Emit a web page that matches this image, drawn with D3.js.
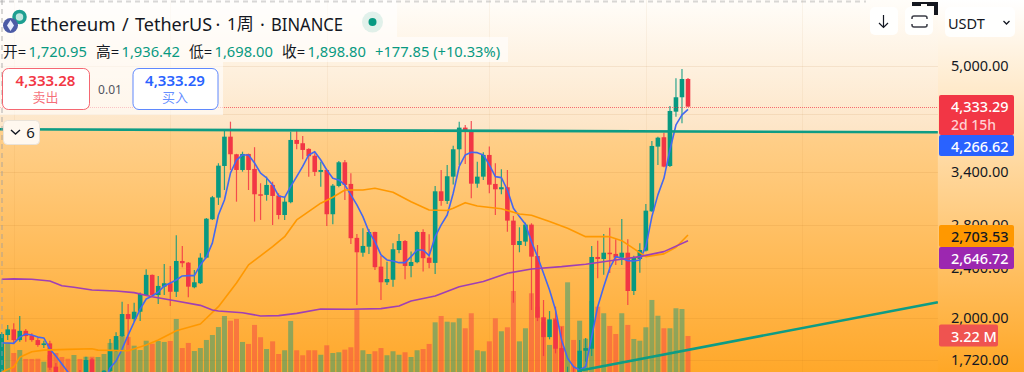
<!DOCTYPE html>
<html>
<head>
<meta charset="utf-8">
<title>Ethereum / TetherUS</title>
<script src="https://cdn.jsdelivr.net/npm/d3@7"></script>
<style>
  html, body { margin: 0; padding: 0; background: #fff; overflow: hidden; }
  svg { display: block; }
  text { font-family: "Noto Sans", "Noto Sans CJK SC", sans-serif; }
</style>
</head>
<body>
<svg id="chart" width="1024" height="372"></svg>
<script>
// weekly candles, left to right
const opens = [1597,1880,1919,1846,1909,1878,1846,1813,1824,1676,1568,1520,1490,1550,1512,1721,1512,1512,1650,1780,1873,2029,1992,2046,2174,2339,2174,2241,2269,2200,2460,2445,2236,2269,2490,2862,3096,3473,3863,3624,3423,3628,3436,3134,3127,3242,3119,2907,3045,3817,3772,3695,3605,3399,3423,2915,3230,3520,3254,2675,2535,2591,2733,2410,2277,2298,2560,2645,2416,2449,2733,2490,2443,3168,3059,3341,3690,3992,3944,3257,3341,3615,3254,3191,3215,2848,2607,2639,2807,2505,2005,1866,1990,1793,1530,1610,1626,1776,1789,2496,2478,2535,2524,2490,2535,2206,2478,2554,2946,3726,3855,3473,4230,4457,4763]
const highs = [1900,1950,1962,2015,1921,1893,1860,1841,1841,1699,1590,1560,1580,1656,1737,1729,1626,1656,1853,1900,2122,2105,2114,2193,2387,2342,2330,2434,2416,2701,2598,2450,2381,2530,2876,3115,3508,3958,4079,3630,3658,3632,3718,3262,3341,3281,3146,3100,3934,3958,3873,3704,3637,3528,3432,3254,3536,3549,3383,2714,2770,2763,2736,2505,2454,2624,2714,2655,2545,2746,2760,2710,3230,3423,3486,3739,4079,4031,4089,3528,3650,3726,3507,3432,3423,2897,2780,2827,2821,2607,2135,2051,2084,1937,1676,1676,1846,1860,2598,2648,2714,2776,2662,2865,2662,2508,2624,3026,3803,3863,3920,4319,4775,4940,4780]
const lows = [1568,1846,1826,1835,1835,1835,1802,1793,1656,1540,1500,1470,1460,1490,1490,1490,1490,1500,1626,1769,1866,1813,1973,1978,2172,2161,2105,2174,2089,2159,2405,2156,2228,2263,2485,2855,3015,3183,3423,3051,3402,3183,2838,2855,3062,2804,2862,2855,3034,3690,3558,3341,3350,3222,2794,2811,3215,3070,2617,2097,2499,2524,2381,2135,2255,2241,2530,2302,2319,2440,2367,2396,2347,3007,3024,3246,3486,3498,3089,3210,3301,3146,2907,3134,2736,2114,2539,2598,2059,1978,1742,1851,1759,1530,1510,1540,1597,1707,1742,2310,2339,2355,2425,2425,2097,2174,2358,2545,2942,3486,3458,3461,4154,4055,4305]
const closes = [1887,1919,1846,1909,1873,1846,1813,1824,1670,1568,1520,1490,1550,1520,1717,1512,1560,1652,1780,1873,2029,1992,2046,2182,2339,2174,2247,2269,2200,2460,2440,2241,2277,2490,2868,3100,3477,3863,3624,3423,3628,3423,3134,3120,3242,3115,2907,3051,3817,3763,3681,3598,3399,3423,2915,3234,3520,3242,2672,2539,2598,2733,2405,2277,2304,2567,2645,2416,2451,2733,2485,2443,3168,3059,3346,3690,3992,3944,3257,3341,3615,3245,3191,3215,2848,2607,2645,2807,2499,2002,1866,1990,1789,1609,1610,1570,1776,1793,2496,2478,2535,2524,2490,2535,2206,2487,2560,2953,3735,3849,3465,4241,4457,4763,4308]
const volumes = [2.50,2.66,1.85,2.09,1.37,1.37,1.39,1.15,1.69,1.85,1.53,1.39,1.69,1.37,1.55,1.55,1.53,1.77,2.66,2.90,3.30,3.14,2.44,2.09,2.84,2.60,2.82,2.74,2.82,4.59,2.25,2.66,2.01,2.25,2.90,3.30,3.94,4.83,4.45,4.59,2.74,2.58,4.11,3.12,2.17,2.79,1.77,2.07,4.43,2.07,1.67,2.07,2.07,1.71,2.47,1.85,1.91,2.12,2.31,5.31,2.07,1.77,1.99,2.25,1.67,1.99,1.71,1.91,1.53,2.07,2.17,2.58,4.32,4.83,4.37,4.32,4.64,3.84,5.05,2.07,1.99,2.79,4.64,3.60,3.92,6.84,2.79,3.84,6.66,5.58,4.35,2.50,4.67,4.03,7.54,2.90,4.45,3.00,6.04,5.58,5.05,4.03,3.38,5.05,4.11,2.98,2.84,3.92,6.12,4.85,3.84,3.84,5.45,5.39,3.22]

// moving averages
const blueMA = [1826,1826,1824,1866,1887,1880,1866,1860,1787,1742,1693,1644,1597,1568,1551,1551,1563,1586,1668,1711,1787,1880,1971,2066,2143,2166,2198,2247,2271,2296,2330,2333,2333,2425,2496,2627,2907,3070,3385,3549,3615,3615,3511,3383,3325,3242,3115,3100,3222,3341,3467,3615,3658,3549,3423,3321,3301,3242,3127,3015,2890,2736,2639,2515,2469,2460,2445,2445,2499,2560,2560,2508,2687,2804,2907,3146,3467,3615,3650,3645,3615,3486,3341,3329,3183,2979,2890,2811,2639,2499,2353,2214,2059,1846,1728,1676,1656,1676,1868,2084,2241,2396,2499,2485,2463,2460,2469,2591,2890,3127,3321,3681,4031,4180,4266.62]
const orangeIdx = [0,2,3,5,7,11,15,16,21,24,26,29,33,36,39,41,45,47,49,53,55,57,60,62,65,68,71,74,75,77,79,83,86,88,91,94,97,101,103,107,110,112,114]
const orangeMA = [1644,1674,1734,1769,1780,1785,1789,1780,1776,1813,1846,1909,1957,2084,2271,2425,2591,2687,2855,3034,3100,3183,3183,3203,3157,3051,2960,2955,2979,3040,3004,2974,2918,2905,2838,2770,2687,2687,2648,2499,2524,2586,2703.53]
const purpleIdx = [0,2,5,8,10,12,15,19,22,25,29,33,35,36,40,43,46,49,53,58,63,66,68,72,76,80,84,88,93,97,102,106,110,114]
const purpleMA = [2302,2305,2302,2287,2248,2236,2214,2206,2193,2161,2127,2094,2059,2051,2039,2015,2017,2034,2066,2064,2069,2089,2127,2166,2241,2283,2353,2390,2410,2431,2469,2499,2545,2646.72]

// hand drawn trend lines, candle index and price of both ends
const upperLineIdx = [-0.3, 155.5]
const upperLinePrice = [3968, 3925]
const lowerLineIdx = [95.9, 155.5]
const lowerLinePrice = [1652, 2118]

const priceTicks = [5000, 4200, 3400, 2800, 2400, 2000, 1720]
const hiddenTicks = [4200]
const gridIdx = [2, 28, 54, 81, 107, 133]

const ohlcNames = ['开=', '高=', '低=', '收=']
const ohlcValues = ['1,720.95', '1,936.42', '1,698.00', '1,898.80']
const ohlcChange = '+177.85 (+10.33%)'
const lastPrice = 4333.29

const GREEN = '#089981'
const RED = '#f23645'
const BLUE = '#2962ff'
const ORANGE = '#ff9800'
const PURPLE = '#9c27b0'
const LINE_GREEN = '#0e9c84'

const PANE_RIGHT = 938
const WIDTH = 1024
const HEIGHT = 372

const svg = d3.select('#chart')
const xScale = d3.scaleLinear().domain([0, 114]).range([1.7, 688])
const yScale = d3.scaleLog().domain([5000, 2000]).range([65.6, 318])
const volScale = d3.scaleLinear().domain([0, 8]).range([376, 276.6])

/**
 * Adds a vertical gradient to the svg defs.
 *
 * @param {object} defs The defs selection
 * @param {string} id The id of the gradient
 * @param {string[]} colors The colors, spread evenly
 */
function addGradient (defs, id, colors) {
  const grad = defs.append('linearGradient').attr('id', id)
    .attr('x1', 0).attr('x2', 0).attr('y1', 0).attr('y2', 1)
  colors.forEach((c, i) => {
    grad.append('stop').attr('offset', i / (colors.length - 1)).attr('stop-color', c)
  })
}

/**
 * Draws the backgrounds, the pane is darker under the upper trend line.
 */
function drawBackground () {
  const defs = svg.append('defs')
  addGradient(defs, 'bgFull', ['#ffffff', '#ffa726'])
  addGradient(defs, 'bgTop', ['#fffdf9', '#fde5c6'])
  addGradient(defs, 'bgBottom', ['#ffd08c', '#ffa82a'])

  svg.append('rect').attr('width', WIDTH).attr('height', HEIGHT).attr('fill', 'url(#bgFull)')
  svg.append('rect').attr('width', PANE_RIGHT).attr('height', 131).attr('fill', 'url(#bgTop)')

  const lineX = upperLineIdx.map(xScale)
  const lineY = upperLinePrice.map(yScale)
  const pts = [[lineX[0], lineY[0]], [lineX[1], lineY[1]], [lineX[1], HEIGHT], [lineX[0], HEIGHT]]
  svg.append('polygon').attr('points', pts.join(' ')).attr('fill', 'url(#bgBottom)')
}

/**
 * Draws the faint grid lines of the pane.
 */
function drawGrid () {
  const g = svg.append('g').attr('stroke', '#a8640f')
  g.selectAll('line.h').data(priceTicks).join('line').attr('class', 'h')
    .attr('stroke-opacity', 0.1)
    .attr('x1', 0).attr('x2', PANE_RIGHT)
    .attr('y1', d => Math.round(yScale(d)) + 0.5).attr('y2', d => Math.round(yScale(d)) + 0.5)
  g.selectAll('line.v').data(gridIdx).join('line').attr('class', 'v')
    .attr('stroke-opacity', 0.06)
    .attr('x1', d => Math.round(xScale(d)) + 0.5).attr('x2', d => Math.round(xScale(d)) + 0.5)
    .attr('y1', 0).attr('y2', HEIGHT)
}

/**
 * Draws the volume bars under the candles.
 */
function drawVolumes () {
  svg.append('g').selectAll('rect').data(volumes).join('rect')
    .attr('x', (d, i) => xScale(i) - 2.5)
    .attr('width', 5)
    .attr('y', d => volScale(d))
    .attr('height', d => volScale(0) - volScale(d))
    .attr('fill', (d, i) => closes[i] >= opens[i] ? GREEN : RED)
    .attr('fill-opacity', 0.45)
}

/**
 * Draws wicks and bodies of the candles.
 */
function drawCandles () {
  const candles = svg.append('g').selectAll('g').data(opens).join('g')
    .attr('fill', (d, i) => closes[i] >= d ? GREEN : RED)
    .attr('stroke', (d, i) => closes[i] >= d ? GREEN : RED)
  candles.append('line')
    .attr('x1', (d, i) => xScale(i)).attr('x2', (d, i) => xScale(i))
    .attr('y1', (d, i) => yScale(highs[i])).attr('y2', (d, i) => yScale(lows[i]))
    .attr('stroke-width', 1.2)
    .attr('stroke-opacity', 0.85)
  candles.append('rect')
    .attr('x', (d, i) => xScale(i) - 2.3)
    .attr('width', 4.6)
    .attr('y', (d, i) => yScale(Math.max(d, closes[i])))
    .attr('height', (d, i) => Math.max(1.5, Math.abs(yScale(d) - yScale(closes[i]))))
    .attr('stroke', 'none')
}

/**
 * Draws one moving average.
 */
function drawMA (idx, values, color) {
  const line = d3.line().x((d, i) => xScale(idx[i])).y(d => yScale(d))
  svg.append('path').datum(values)
    .attr('d', line)
    .attr('fill', 'none')
    .attr('stroke', color)
    .attr('stroke-width', 1.6)
    .attr('stroke-linejoin', 'round')
}

/**
 * Draws a trend line.
 */
function drawTrendLine (idx, prices) {
  svg.append('line')
    .attr('x1', xScale(idx[0])).attr('x2', xScale(idx[1]))
    .attr('y1', yScale(prices[0])).attr('y2', yScale(prices[1]))
    .attr('stroke', LINE_GREEN)
    .attr('stroke-width', 2.6)
}

/**
 * Draws the price axis at the right, the tags go over it later.
 */
function drawAxis () {
  const axis = d3.axisRight(yScale)
    .tickValues(priceTicks.filter(d => !hiddenTicks.includes(d)))
    .tickFormat(d3.format(',.2f'))
    .tickSize(0)
    .tickPadding(0)
  const g = svg.append('g').attr('transform', 'translate(951, 0)').call(axis)
  g.select('.domain').remove()
  g.selectAll('text').attr('font-size', 14.5).attr('fill', '#131722')
    .style('font-family', '"Noto Sans", sans-serif')
}

function addText (parent, x, y, str, size, color, anchor) {
  return parent.append('text')
    .attr('x', x).attr('y', y)
    .attr('font-size', size)
    .attr('fill', color)
    .attr('text-anchor', anchor || 'start')
    .attr('dominant-baseline', 'central')
    .text(str)
}

/**
 * Draws a coloured tag on the price axis.
 */
function drawTag (y, h, w, color, label, textColor) {
  svg.append('rect').attr('x', 939).attr('y', y).attr('width', w).attr('height', h)
    .attr('rx', 2).attr('fill', color)
  addText(svg, 951, y + 11, label, 14.5, textColor).attr('font-weight', 500)
}

function drawTags () {
  const fmt = d3.format(',.2f')
  drawTag(95, 40, 75, RED, fmt(lastPrice), '#ffffff')
  addText(svg, 951, 124, '2d 15h', 14, '#ffd0d4').attr('font-weight', 500)
  drawTag(135, 21, 75, BLUE, fmt(blueMA[blueMA.length - 1]), '#ffffff')
  drawTag(225, 22, 75, ORANGE, fmt(orangeMA[orangeMA.length - 1]), '#131722')
  drawTag(247, 22, 75, PURPLE, fmt(purpleMA[purpleMA.length - 1]), '#ffffff')
  drawTag(324.5, 22, 59, '#ef5350', d3.format('.2f')(volumes[volumes.length - 1]) + ' M', '#ffffff')
}

/**
 * Draws the last price line, dotted.
 */
function drawPriceLine () {
  const y = Math.round(yScale(closes[closes.length - 1])) + 0.5
  svg.append('line')
    .attr('x1', 0).attr('x2', PANE_RIGHT)
    .attr('y1', y).attr('y2', y)
    .attr('stroke', RED).attr('stroke-width', 1).attr('stroke-dasharray', '1 1')
    .attr('stroke-opacity', 0.7)
}

function drawLegendBoxes () {
  const g = svg.append('g').attr('fill', '#ffffff').attr('fill-opacity', 0.6)
  g.append('rect').attr('x', 0).attr('y', 0).attr('width', 397).attr('height', 37)
  g.append('rect').attr('x', 0).attr('y', 37).attr('width', 508).attr('height', 25)
  g.append('rect').attr('x', 0).attr('y', 62).attr('width', 223).attr('height', 53)
}

function drawBorders () {
  const g = svg.append('g').attr('stroke', '#9d9d9d').attr('stroke-opacity', 0.4)
    .attr('stroke-dasharray', '5 4').attr('stroke-width', 2)
  g.append('line').attr('x1', 0).attr('x2', 866).attr('y1', 1.5).attr('y2', 1.5)
  g.append('line').attr('x1', 2).attr('x2', 2).attr('y1', 0).attr('y2', HEIGHT)
}

function drawHeader () {
  // logo, teal coin behind the ethereum one
  svg.append('circle').attr('cx', 19.5).attr('cy', 17).attr('r', 5.5)
    .attr('fill', '#bfe6df').attr('stroke', '#1d9f91').attr('stroke-width', 3.5)
  svg.append('circle').attr('cx', 10.5).attr('cy', 25.5).attr('r', 7.5).attr('fill', '#4c5ba6')
  svg.append('path').attr('d', 'M10.5 20 L14 25.5 L10.5 31 L7 25.5 Z').attr('fill', '#e8ecff')

  addText(svg, 30, 23.5, 'Ethereum', 18.6, '#131722')
  addText(svg, 122, 23.5, '/', 18, '#131722')
  addText(svg, 135, 23.5, 'TetherUS', 18, '#131722')
  addText(svg, 215.5, 23.5, '·', 18, '#131722')
  addText(svg, 227, 23.5, '1周', 17, '#131722')
  addText(svg, 260, 23.5, '·', 18, '#131722')
  addText(svg, 271, 23.5, 'BINANCE', 18, '#131722').attr('textLength', 72).attr('lengthAdjust', 'spacingAndGlyphs')

  svg.append('circle').attr('cx', 372.5).attr('cy', 22).attr('r', 10.5).attr('fill', GREEN).attr('fill-opacity', 0.12)
  svg.append('circle').attr('cx', 372.5).attr('cy', 22).attr('r', 4).attr('fill', GREEN)

  const groupX = [3, 96, 189, 282]
  ohlcNames.forEach((name, i) => {
    addText(svg, groupX[i], 50.5, name, 14.7, '#131722')
    addText(svg, groupX[i] + 25.5, 50.5, ohlcValues[i], 14.7, GREEN)
  })
  addText(svg, 375, 50.5, ohlcChange, 14.7, GREEN)
}

function drawTradeBox (x, w, color, textColor, price, label) {
  svg.append('rect').attr('x', x + 0.5).attr('y', 68.5).attr('width', w).attr('height', 41)
    .attr('rx', 6).attr('fill', '#ffffff').attr('stroke', color).attr('stroke-opacity', 0.75)
  addText(svg, x + w / 2, 80, price, 15, textColor, 'middle').attr('font-weight', 600)
  addText(svg, x + w / 2, 97, label, 13, textColor, 'middle').attr('fill-opacity', 0.72)
}

function drawTrade () {
  drawTradeBox(2, 87, RED, RED, '4,333.28', '卖出')
  addText(svg, 110, 89.5, '0.01', 12, '#50535e', 'middle')
  drawTradeBox(132.5, 85, BLUE, BLUE, '4,333.29', '买入')
}

function drawCollapse () {
  svg.append('rect').attr('x', 3.5).attr('y', 120.5).attr('width', 36).attr('height', 24)
    .attr('rx', 4).attr('fill', '#fff8ef').attr('stroke', '#e9e2d8')
  svg.append('path').attr('d', 'M11 130 L15.5 134 L20 130').attr('fill', 'none')
    .attr('stroke', '#131722').attr('stroke-width', 1.4)
  addText(svg, 30.5, 132, '6', 15, '#131722', 'middle')
}

function drawButtons () {
  const btn = svg.append('g').attr('fill', '#ffffff').attr('fill-opacity', 0.9)
  btn.append('rect').attr('x', 870).attr('y', 7).attr('width', 28).attr('height', 28).attr('rx', 5)
  btn.append('rect').attr('x', 905).attr('y', 7).attr('width', 28).attr('height', 28).attr('rx', 5)
  btn.append('rect').attr('x', 945).attr('y', 7).attr('width', 70).attr('height', 30).attr('rx', 5)

  svg.append('path').attr('d', 'M883.5 15 V27 M879 23 L883.5 27.5 L888 23')
    .attr('fill', 'none').attr('stroke', '#131722').attr('stroke-width', 1.2)
  svg.append('path').attr('d', 'M912 19 V18 Q912 16 914 16 H925 Q927 16 927 18 V19 M912 24 V25 Q912 27 914 27 H925 Q927 27 927 25 V24')
    .attr('fill', 'none').attr('stroke', '#3b3d45').attr('stroke-width', 1.5)
  addText(svg, 948, 22.5, 'USDT', 14.5, '#131722')
  svg.append('path').attr('d', 'M1003.5 21 L1006.5 24 L1009.5 21').attr('fill', 'none')
    .attr('stroke', '#131722').attr('stroke-width', 1.3)

  // the cut off black thing at the top
  svg.append('path').attr('d', 'M912 2 H938 V15 H934 V6 H927 V4 H921 V6 H912 Z').attr('fill', '#14161d')
}

drawBackground()
drawGrid()
drawVolumes()
drawCandles()
drawMA(d3.range(blueMA.length), blueMA, '#4468f0')
drawMA(orangeIdx, orangeMA, ORANGE)
drawMA(purpleIdx, purpleMA, '#a03fb4')
drawTrendLine(upperLineIdx, upperLinePrice)
drawTrendLine(lowerLineIdx, lowerLinePrice)
drawPriceLine()
drawLegendBoxes()
drawBorders()
drawAxis()
drawTags()
drawHeader()
drawTrade()
drawCollapse()
drawButtons()
</script>
</body>
</html>
